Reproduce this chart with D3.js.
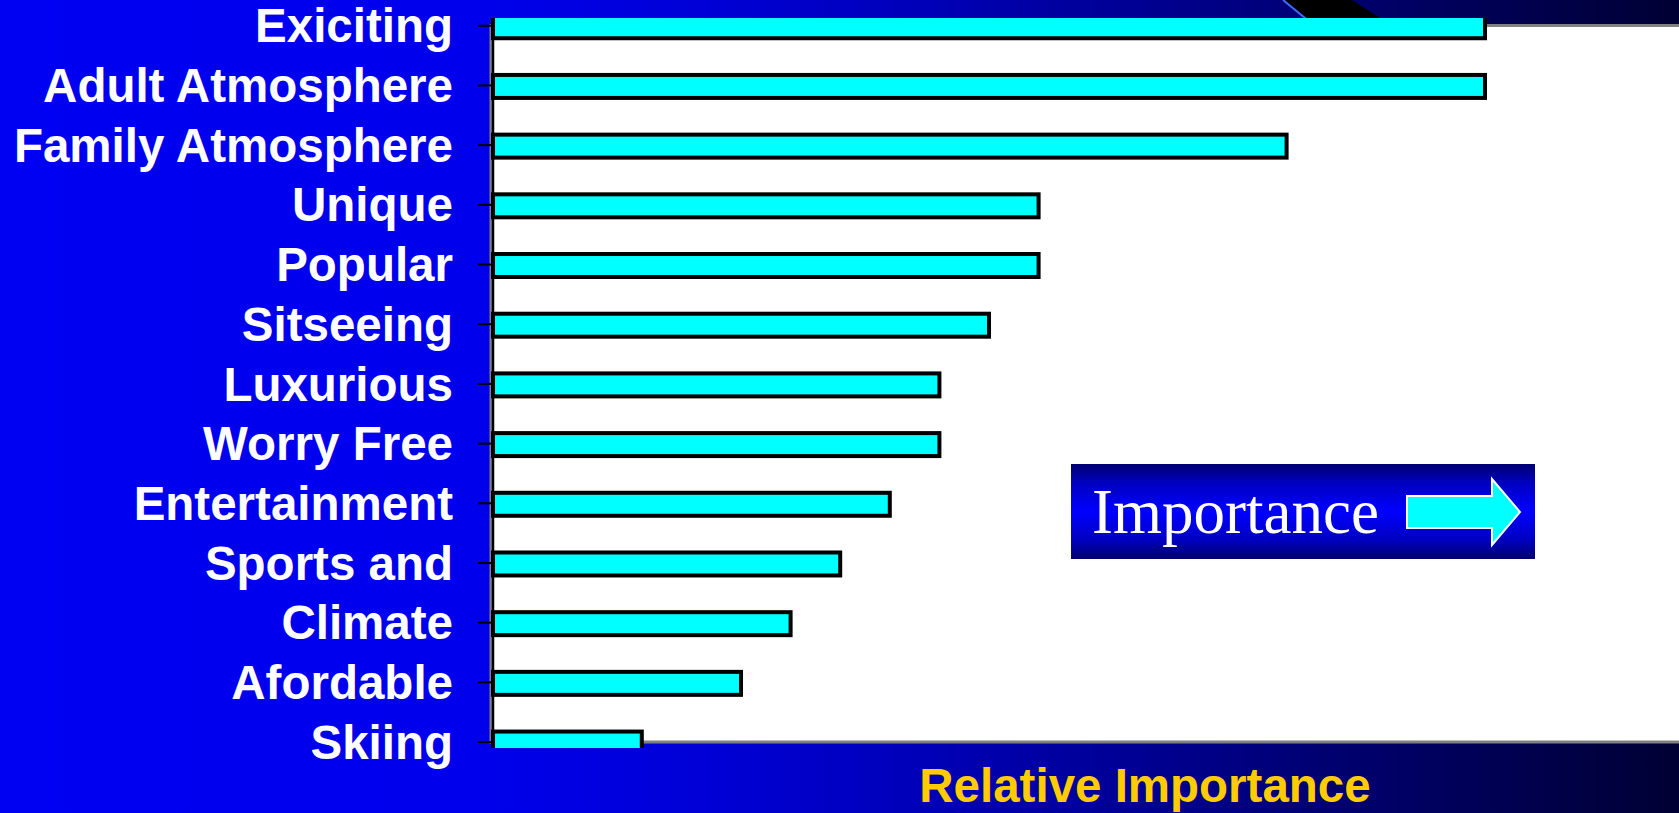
<!DOCTYPE html>
<html>
<head>
<meta charset="utf-8">
<script src="https://cdn.jsdelivr.net/npm/d3@7"></script>
<style>
  html, body { margin: 0; padding: 0; background: #0000f0; overflow: hidden; }
  svg { display: block; }
</style>
</head>
<body>
<svg id="chart" width="1679" height="813"></svg>
<script>
// Attributes ranked by relative importance
const categories = [
  "Exiciting", "Adult Atmosphere", "Family Atmosphere", "Unique", "Popular",
  "Sitseeing", "Luxurious", "Worry Free", "Entertainment", "Sports and",
  "Climate", "Afordable", "Skiing"
];
const importance = [1.0, 1.0, 0.8, 0.55, 0.55, 0.5, 0.45, 0.45, 0.4, 0.35, 0.3, 0.25, 0.15];
const axisTitle = "Relative Importance";
const calloutText = "Importance";

const W = 1679, H = 813;
const svg = d3.select("#chart");
const defs = svg.append("defs");

// Slide background: bright blue fading to near-black on the right
const bg = defs.append("linearGradient").attr("id", "bgGrad")
  .attr("x1", 0).attr("y1", 0).attr("x2", 1).attr("y2", 0);
[[0, "#0000f2"], [0.28, "#0000ec"], [0.42, "#0000d6"], [0.55, "#0000b8"],
 [0.72, "#000086"], [0.8, "#00006e"], [1, "#000033"]]
  .forEach(([o, c]) => bg.append("stop").attr("offset", o).attr("stop-color", c));

// Callout box: dark edges, bright blue middle
const boxGrad = defs.append("linearGradient").attr("id", "boxGrad")
  .attr("x1", 0).attr("y1", 0).attr("x2", 0).attr("y2", 1);
[[0, "#000070"], [0.2, "#0000c0"], [0.5, "#0000ff"], [0.8, "#0000c0"], [1, "#000070"]]
  .forEach(([o, c]) => boxGrad.append("stop").attr("offset", o).attr("stop-color", c));

defs.append("clipPath").attr("id", "barClip")
  .append("rect").attr("x", 0).attr("y", 18).attr("width", W).attr("height", 730);

svg.append("rect").attr("width", W).attr("height", H).attr("fill", "url(#bgGrad)");

// Decorative dark wedge along the top edge
svg.append("polygon")
  .attr("points", "1283,0 1352,0 1394,27 1316,27")
  .attr("fill", "#000000");
svg.append("line")
  .attr("x1", 1283).attr("y1", 0).attr("x2", 1316).attr("y2", 27)
  .attr("stroke", "#3f6cff").attr("stroke-width", 2);

// Scales
const x = d3.scaleLinear().domain([0, 1]).range([493, 1485]);
const y = d3.scaleBand().domain(categories)
  .range([-4.1, 771.9]).paddingInner(0.615).paddingOuter(0.3075);

// Plot area
svg.append("rect")
  .attr("x", 491).attr("y", 25.5).attr("width", 1300).attr("height", 716.5)
  .attr("fill", "#ffffff").attr("stroke", "#808080").attr("stroke-width", 3);

// Bars
svg.append("g").attr("clip-path", "url(#barClip)")
  .selectAll("rect").data(categories).join("rect")
  .attr("x", x(0))
  .attr("y", d => y(d) + 1)
  .attr("width", (d, i) => x(importance[i]) - x(0))
  .attr("height", y.bandwidth())
  .attr("fill", "#00ffff")
  .attr("stroke", "#000000")
  .attr("stroke-width", 4);

// Category axis
const yAxis = svg.append("g")
  .attr("transform", `translate(${x(0)},0)`)
  .call(d3.axisLeft(y).tickSize(15).tickPadding(25));
yAxis.select(".domain").remove();
yAxis.selectAll(".tick line").attr("stroke", "#000000").attr("stroke-width", 2);
yAxis.selectAll(".tick text")
  .attr("fill", "#ffffff")
  .attr("dy", "0.35em")
  .style("font-family", "'Liberation Sans', Arial, sans-serif")
  .style("font-weight", "bold")
  .style("font-size", "47.5px");

svg.append("line")
  .attr("x1", x(0)).attr("x2", x(0)).attr("y1", 18).attr("y2", 747)
  .attr("stroke", "#000000").attr("stroke-width", 2.5);

// Axis title
svg.append("text")
  .attr("x", 1145).attr("y", 802)
  .attr("text-anchor", "middle")
  .attr("fill", "#ffcc00")
  .style("font-family", "'Liberation Sans', Arial, sans-serif")
  .style("font-weight", "bold")
  .style("font-size", "47.5px")
  .text(axisTitle);

// Callout with arrow
const callout = svg.append("g");
callout.append("rect")
  .attr("x", 1071).attr("y", 464).attr("width", 464).attr("height", 95)
  .attr("fill", "url(#boxGrad)");
callout.append("text")
  .attr("x", 1092).attr("y", 533)
  .attr("fill", "#ffffff")
  .style("font-family", "'Liberation Serif', 'Times New Roman', serif")
  .style("font-size", "63px")
  .text(calloutText);
callout.append("polygon")
  .attr("points", "1407,496 1492,496 1492,479 1520,512 1492,545 1492,528 1407,528")
  .attr("fill", "#00ffff")
  .attr("stroke", "#ffffff")
  .attr("stroke-width", 2)
  .attr("stroke-linejoin", "miter");
</script>
</body>
</html>
